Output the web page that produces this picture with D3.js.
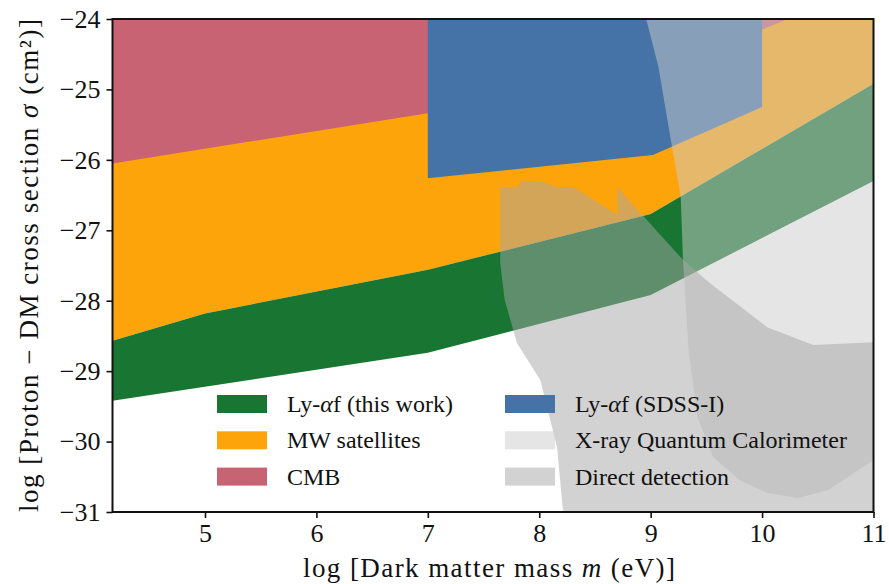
<!DOCTYPE html>
<html>
<head>
<meta charset="utf-8">
<script src="https://cdn.jsdelivr.net/npm/d3@7"></script>
<style>
  body { margin: 0; background: #fff; }
  text { font-family: "Liberation Serif", "DejaVu Serif", serif; fill: #111; }
</style>
</head>
<body>
<script>
// all boundaries are [log m (eV), log sigma (cm^2)]
var xTicks = [5, 6, 7, 8, 9, 10, 11];
var yTicks = [-24, -25, -26, -27, -28, -29, -30, -31];

var mwLower = [[4.17, -28.57], [5, -28.18], [7, -27.56], [9, -26.77], [11, -24.92]];
var lyaLower = [[4.17, -29.42], [7, -28.74], [9, -27.92], [11, -26.3]];
var cmbLower = [[4.17, -26.05], [7, -25.34], [10, -24.15], [11, -23.5]];
var sdssLower = [[7, -26.26], [9.02, -25.93], [10, -25.25]];
var xrayEdge = [
  [8.96, -24.0], [9.07, -24.68], [9.19, -25.8], [9.27, -26.53], [9.29, -27.42],
  [9.34, -28.7], [9.42, -29.65], [9.56, -30.22], [9.8, -30.55], [10.05, -30.73],
  [10.32, -30.8], [10.59, -30.69], [11.0, -30.26]
];
var ddEdge = [
  [8.22, -31.0], [8.21, -30.93], [8.16, -30.08], [8.01, -29.13], [7.8, -28.6],
  [7.69, -27.99], [7.65, -27.47], [7.65, -26.39], [7.8, -26.39], [7.85, -26.3],
  [8.01, -26.3], [8.16, -26.39], [8.31, -26.39], [8.7, -26.78], [8.7, -26.39],
  [9.29, -27.42], [9.53, -27.75], [10.05, -28.38], [10.46, -28.63], [11.0, -28.59]
];

var labels = ["Ly-αf (this work)", "MW satellites", "CMB",
              "Ly-αf (SDSS-I)", "X-ray Quantum Calorimeter", "Direct detection"];
var colors = ["#197632", "#fea40b", "#c86374", "#4573a7", "#cbcbcb", "#a6a6a6"];
var opacities = [1, 1, 1, 1, 0.5, 0.5];

var outerWidth = 889;
var outerHeight = 584;
var margin = { top: 19, right: 15.5, bottom: 72, left: 112.5 };
var width = outerWidth - margin.left - margin.right;
var height = outerHeight - margin.top - margin.bottom;
var ceil = -23.5;

var svg = d3.select("body")
  .append("svg")
  .attr("width", outerWidth)
  .attr("height", outerHeight);

var xScale = d3.scaleLinear().domain([4.17, 11]).range([0, width]);
var yScale = d3.scaleLinear().domain([-31, -24]).range([height, 0]);

var g = svg.append("g")
  .attr("transform", "translate(" + margin.left + "," + margin.top + ")");

g.append("clipPath").attr("id", "plot-clip")
  .append("rect").attr("width", width).attr("height", height);

var line = d3.line()
  .x((d) => xScale(d[0]))
  .y((d) => yScale(d[1]));

// polygons, in drawing order
var regions = [
  { i: 1, pts: mwLower.concat([[11, ceil], [4.17, ceil]]) },
  { i: 2, pts: cmbLower.concat([[11, ceil], [4.17, ceil]]) },
  { i: 3, pts: [[7, ceil]].concat(sdssLower, [[10, ceil]]) },
  { i: 0, pts: mwLower.concat(lyaLower.slice().reverse()) },
  { i: 4, pts: [[8.96, ceil]].concat(xrayEdge, [[11.3, -30.0], [11.3, ceil]]) },
  { i: 5, pts: ddEdge.concat([[11.3, -28.59], [11.3, -31.5], [8.22, -31.5]]) }
];

var areas = g.append("g").attr("clip-path", "url(#plot-clip)");
areas.selectAll("path")
  .data(regions)
  .enter()
  .append("path")
  .attr("d", (d) => line(d.pts) + "Z")
  .attr("fill", (d) => colors[d.i])
  .attr("fill-opacity", (d) => opacities[d.i])
  .attr("stroke", "none");

// axes
var xAxis = d3.axisBottom(xScale).tickValues(xTicks).tickSize(6).tickPadding(6)
  .tickFormat(d3.format("d"));
var yAxis = d3.axisLeft(yScale).tickValues(yTicks).tickSize(6).tickPadding(6)
  .tickFormat(d3.format("d"));

var gx = g.append("g").attr("transform", "translate(0," + height + ")").call(xAxis);
var gy = g.append("g").call(yAxis);
[gx, gy].forEach(function (a) {
  a.select(".domain").remove();
  a.selectAll(".tick line").attr("stroke", "#111").attr("stroke-width", 1.6);
  a.selectAll(".tick text")
    .attr("font-family", "Liberation Serif")
    .attr("font-size", 26)
    .attr("fill", "#111");
});

g.append("rect")
  .attr("width", width)
  .attr("height", height)
  .attr("fill", "none")
  .attr("stroke", "#111")
  .attr("stroke-width", 2);

// legend
function addLabel(sel, s) {
  s.split(/(α)/).forEach(function (part) {
    if (!part) return;
    sel.append("tspan")
      .attr("font-style", part === "α" ? "italic" : null)
      .text(part);
  });
}

var legend = svg.selectAll(".legend")
  .data(labels)
  .enter()
  .append("g")
  .attr("class", "legend")
  .attr("transform", (d, i) =>
    "translate(" + (i < 3 ? 217 : 505) + "," + (404 + 36.3 * (i % 3)) + ")");

legend.append("rect")
  .attr("x", 0)
  .attr("y", -9)
  .attr("width", 50)
  .attr("height", 18)
  .attr("fill", (d, i) => colors[i])
  .attr("fill-opacity", (d, i) => opacities[i]);

legend.append("text")
  .attr("x", 70)
  .attr("y", 8)
  .attr("font-size", 24)
  .each(function (d) { addLabel(d3.select(this), d); });

// axis labels
var xLabel = svg.append("text")
  .attr("x", margin.left + width / 2 - 4)
  .attr("y", 577)
  .attr("text-anchor", "middle")
  .attr("font-size", 27)
  .attr("textLength", 372)
  .attr("lengthAdjust", "spacing");
xLabel.append("tspan").text("log [Dark matter mass ");
xLabel.append("tspan").attr("font-style", "italic").text("m");
xLabel.append("tspan").text(" (eV)]");

var yLabel = svg.append("text")
  .attr("transform", "translate(38," + (margin.top + height / 2) + ") rotate(-90)")
  .attr("text-anchor", "middle")
  .attr("font-size", 27)
  .attr("textLength", 493)
  .attr("lengthAdjust", "spacing");
yLabel.append("tspan").text("log [Proton − DM cross section ");
yLabel.append("tspan").attr("font-style", "italic").text("σ");
yLabel.append("tspan").text(" (cm²)]");
</script>
</body>
</html>
